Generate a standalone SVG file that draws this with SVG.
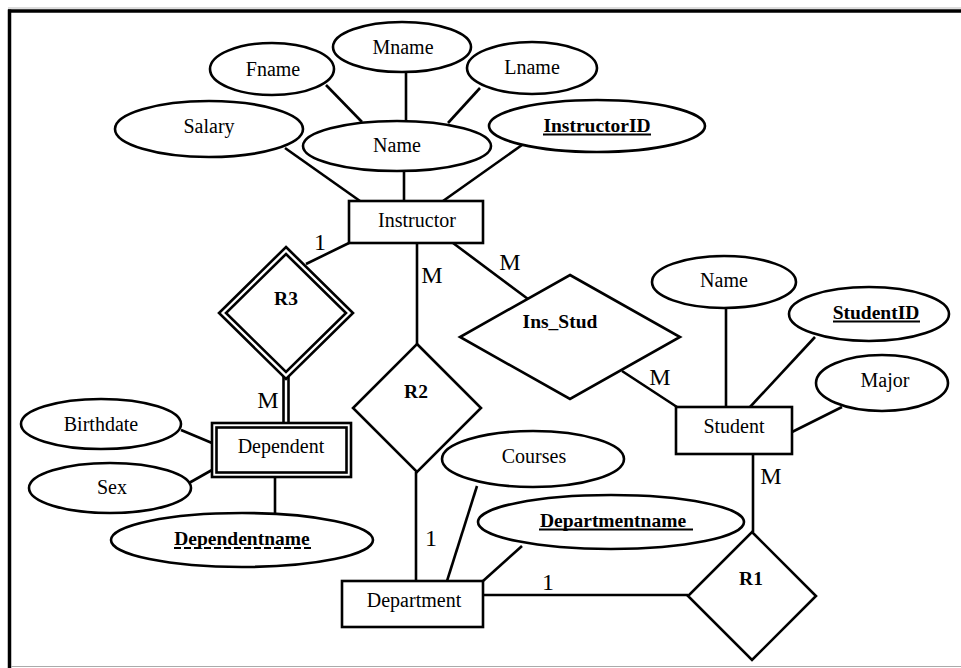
<svg xmlns="http://www.w3.org/2000/svg" width="961" height="668" viewBox="0 0 961 668">
  <style>
    .shape { fill: #fff; stroke: #000; stroke-width: 2.6; }
    .edge { stroke: #000; stroke-width: 2.6; fill: none; }
    .lbl { font-family: "Liberation Serif", "Times New Roman", serif; font-size: 20px; fill: #000; text-anchor: middle; }
    .key { font-family: "Liberation Serif", "Times New Roman", serif; font-size: 19.5px; font-weight: bold; fill: #000; text-anchor: middle; }
    .card { font-family: "Liberation Serif", "Times New Roman", serif; font-size: 24px; fill: #000; text-anchor: middle; }
    .uline { stroke: #000; stroke-width: 2; }
  </style>

  <rect x="0" y="0" width="961" height="668" fill="#fff"/>

  <!-- page frame -->
  <g id="frame">
    <line x1="8" y1="8" x2="961" y2="8" stroke="#bbb" stroke-width="1"/>
    <line x1="8" y1="11" x2="961" y2="11" stroke="#000" stroke-width="3.5"/>
    <line x1="9.5" y1="9.5" x2="9.5" y2="668" stroke="#000" stroke-width="3.5"/>
    <line x1="11" y1="666.5" x2="961" y2="666.5" stroke="#aaa" stroke-width="1.2"/>
  </g>

  <!-- connectors -->
  <g id="connectors" class="edge">
    <line x1="285" y1="148" x2="360" y2="201"/>
    <line x1="404" y1="171" x2="404" y2="201"/>
    <line x1="326" y1="85" x2="362" y2="122"/>
    <line x1="406" y1="72" x2="406" y2="121"/>
    <line x1="480" y1="88" x2="448" y2="123"/>
    <line x1="522" y1="145" x2="443" y2="201"/>
    <line x1="349" y1="243" x2="306" y2="264"/>
    <line x1="417" y1="243" x2="417" y2="344"/>
    <line x1="453" y1="243" x2="528" y2="299"/>
    <line x1="622" y1="371" x2="677" y2="407"/>
    <line x1="726" y1="308" x2="726" y2="407"/>
    <line x1="815" y1="337" x2="750" y2="407"/>
    <line x1="842" y1="407" x2="792" y2="432"/>
    <line x1="753" y1="454" x2="753" y2="532"/>
    <line x1="483" y1="595" x2="688" y2="595"/>
    <line x1="477" y1="486" x2="447" y2="581"/>
    <line x1="522" y1="546" x2="483" y2="581"/>
    <line x1="416" y1="472" x2="416" y2="581"/>
    <line x1="283.5" y1="376" x2="283.5" y2="423"/>
    <line x1="288.5" y1="376" x2="288.5" y2="423"/>
    <line x1="181" y1="430" x2="212" y2="443"/>
    <line x1="189" y1="483" x2="212" y2="470"/>
    <line x1="275" y1="477" x2="275" y2="513"/>
  </g>

  <!-- cardinalities -->
  <g id="cardinalities">
    <text class="card" x="320" y="250">1</text>
    <text class="card" x="432" y="283">M</text>
    <text class="card" x="510" y="270">M</text>
    <text class="card" x="660" y="385">M</text>
    <text class="card" x="268" y="408">M</text>
    <text class="card" x="771" y="484">M</text>
    <text class="card" x="431" y="546">1</text>
    <text class="card" x="548" y="590">1</text>
  </g>

  <!-- Instructor entity and attributes -->
  <g id="instructor">
    <rect class="shape" x="349" y="201" width="134" height="42"/>
    <text class="lbl" x="417" y="227">Instructor</text>
  </g>
  <g id="fname">
    <ellipse class="shape" cx="272" cy="69" rx="62" ry="26"/>
    <text class="lbl" x="273" y="76">Fname</text>
  </g>
  <g id="mname">
    <ellipse class="shape" cx="402" cy="47" rx="69" ry="25"/>
    <text class="lbl" x="403" y="54">Mname</text>
  </g>
  <g id="lname">
    <ellipse class="shape" cx="532" cy="68" rx="65" ry="26"/>
    <text class="lbl" x="532" y="74">Lname</text>
  </g>
  <g id="salary">
    <ellipse class="shape" cx="209" cy="129" rx="94" ry="28"/>
    <text class="lbl" x="209" y="133">Salary</text>
  </g>
  <g id="name">
    <ellipse class="shape" cx="397" cy="146" rx="94" ry="25"/>
    <text class="lbl" x="397" y="152">Name</text>
  </g>
  <g id="instructorid">
    <ellipse class="shape" cx="597" cy="126" rx="108" ry="26"/>
    <text class="key" x="597" y="132">InstructorID</text>
    <line class="uline" x1="543" y1="134.5" x2="651" y2="134.5"/>
  </g>

  <!-- relationships -->
  <g id="r3">
    <polygon class="shape" points="286,247 353,313 286,379 219,313"/>
    <polygon class="shape" points="286,254 346,313 286,372 226,313"/>
    <text class="key" x="286" y="305">R3</text>
  </g>
  <g id="r2">
    <polygon class="shape" points="417,344 481,408 417,472 353,408"/>
    <text class="key" x="416" y="398">R2</text>
  </g>
  <g id="ins_stud">
    <polygon class="shape" points="570,275 680,337 570,399 460,337"/>
    <text class="key" x="560" y="328">Ins_Stud</text>
  </g>
  <g id="r1">
    <polygon class="shape" points="752,532 816,596 752,660 688,596"/>
    <text class="key" x="751" y="585">R1</text>
  </g>

  <!-- Student entity and attributes -->
  <g id="student">
    <rect class="shape" x="676" y="407" width="116" height="47"/>
    <text class="lbl" x="734" y="433">Student</text>
  </g>
  <g id="student-name">
    <ellipse class="shape" cx="724" cy="282" rx="72" ry="26"/>
    <text class="lbl" x="724" y="287">Name</text>
  </g>
  <g id="studentid">
    <ellipse class="shape" cx="869" cy="314" rx="80" ry="27"/>
    <text class="key" x="876" y="319">StudentID</text>
    <line class="uline" x1="833" y1="321.5" x2="920" y2="321.5"/>
  </g>
  <g id="major">
    <ellipse class="shape" cx="882" cy="383" rx="66" ry="28"/>
    <text class="lbl" x="885" y="387">Major</text>
  </g>

  <!-- Department entity and attributes -->
  <g id="department">
    <rect class="shape" x="342" y="581" width="141" height="46"/>
    <text class="lbl" x="414" y="607">Department</text>
  </g>
  <g id="courses">
    <ellipse class="shape" cx="533" cy="459" rx="91" ry="28"/>
    <text class="lbl" x="534" y="463">Courses</text>
  </g>
  <g id="departmentname">
    <ellipse class="shape" cx="611" cy="522" rx="133" ry="27"/>
    <text class="key" x="613" y="527">Departmentname</text>
    <line class="uline" x1="539" y1="529.5" x2="693" y2="529.5"/>
  </g>

  <!-- Dependent weak entity and attributes -->
  <g id="dependent">
    <rect class="shape" x="212" y="423" width="139" height="54"/>
    <rect class="shape" x="216.5" y="427.5" width="130" height="45"/>
    <text class="lbl" x="281" y="453">Dependent</text>
  </g>
  <g id="birthdate">
    <ellipse class="shape" cx="101" cy="424" rx="80" ry="25"/>
    <text class="lbl" x="101" y="431">Birthdate</text>
  </g>
  <g id="sex">
    <ellipse class="shape" cx="110" cy="488" rx="81" ry="25"/>
    <text class="lbl" x="112" y="494">Sex</text>
  </g>
  <g id="dependentname">
    <ellipse class="shape" cx="242" cy="540" rx="131" ry="27"/>
    <text class="key" x="242" y="545">Dependentname</text>
    <line class="uline" x1="174" y1="548" x2="311" y2="548" stroke-dasharray="7 3"/>
  </g>
</svg>
